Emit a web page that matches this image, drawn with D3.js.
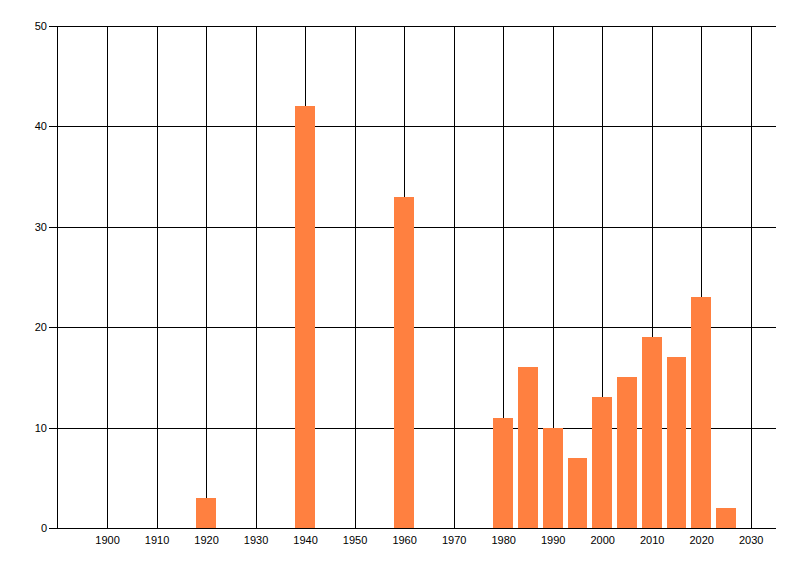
<!DOCTYPE html>
<html>
<head>
<meta charset="utf-8">
<script src="https://cdn.jsdelivr.net/npm/d3@7"></script>
<style>
  html, body { margin: 0; padding: 0; background: #fff; }
  svg { display: block; }
  text { font-family: "Liberation Sans", Arial, sans-serif; font-size: 11px; fill: #000; }
</style>
</head>
<body>
<svg id="chart" width="800" height="576"></svg>
<script>
const years  = [1920, 1940, 1960, 1980, 1985, 1990, 1995, 2000, 2005, 2010, 2015, 2020, 2025];
const counts = [3, 42, 33, 11, 16, 10, 7, 13, 15, 19, 17, 23, 2];
const xTicks = [1900, 1910, 1920, 1930, 1940, 1950, 1960, 1970, 1980, 1990, 2000, 2010, 2020, 2030];
const yTicks = [0, 10, 20, 30, 40, 50];

const svg = d3.select("#chart");
const x = d3.scaleLinear().domain([1890, 2035]).range([57.5, 775.5]);
const y = d3.scaleLinear().domain([0, 50]).range([528, 26]);
const px = v => Math.round(v) + 0.5;

// grid
const grid = svg.append("g").attr("stroke", "#000").attr("stroke-width", 1).attr("shape-rendering", "crispEdges");
grid.selectAll("line.v").data(xTicks).join("line")
  .attr("x1", d => px(x(d))).attr("x2", d => px(x(d)))
  .attr("y1", y(50)).attr("y2", y(0));
grid.selectAll("line.h").data(yTicks.filter(d => d > 0)).join("line")
  .attr("x1", 57).attr("x2", x(2035))
  .attr("y1", d => px(y(d))).attr("y2", d => px(y(d)));

// bars
svg.append("g").selectAll("rect").data(years).join("rect")
  .attr("x", (d) => Math.round(x(d - 2)))
  .attr("width", (d) => Math.round(x(d + 2)) - Math.round(x(d - 2)))
  .attr("y", (d, i) => Math.round(y(counts[i])))
  .attr("height", (d, i) => Math.round(y(0)) - Math.round(y(counts[i])))
  .attr("fill", "#FF8040")
  .attr("shape-rendering", "crispEdges");

// y axis
const yAxis = d3.axisLeft(y).tickValues(yTicks).tickSize(8).tickPadding(2).tickSizeOuter(0);
const gy = svg.append("g").attr("transform", `translate(57,0)`).call(yAxis);
gy.selectAll("line, path").attr("stroke", "#000").attr("shape-rendering", "crispEdges");
gy.selectAll("text").attr("font-family", "Liberation Sans, Arial, sans-serif").attr("font-size", 11).attr("fill", "#000");

// x axis
const xAxis = d3.axisBottom(x).tickValues(xTicks).tickFormat(d3.format("d")).tickSize(0).tickPadding(8).tickSizeOuter(0);
const gx = svg.append("g").attr("transform", `translate(0,${y(0)})`).call(xAxis);
gx.selectAll("path").attr("stroke", "#000").attr("shape-rendering", "crispEdges");
gx.selectAll("text").attr("font-family", "Liberation Sans, Arial, sans-serif").attr("font-size", 11).attr("fill", "#000");
</script>
</body>
</html>
